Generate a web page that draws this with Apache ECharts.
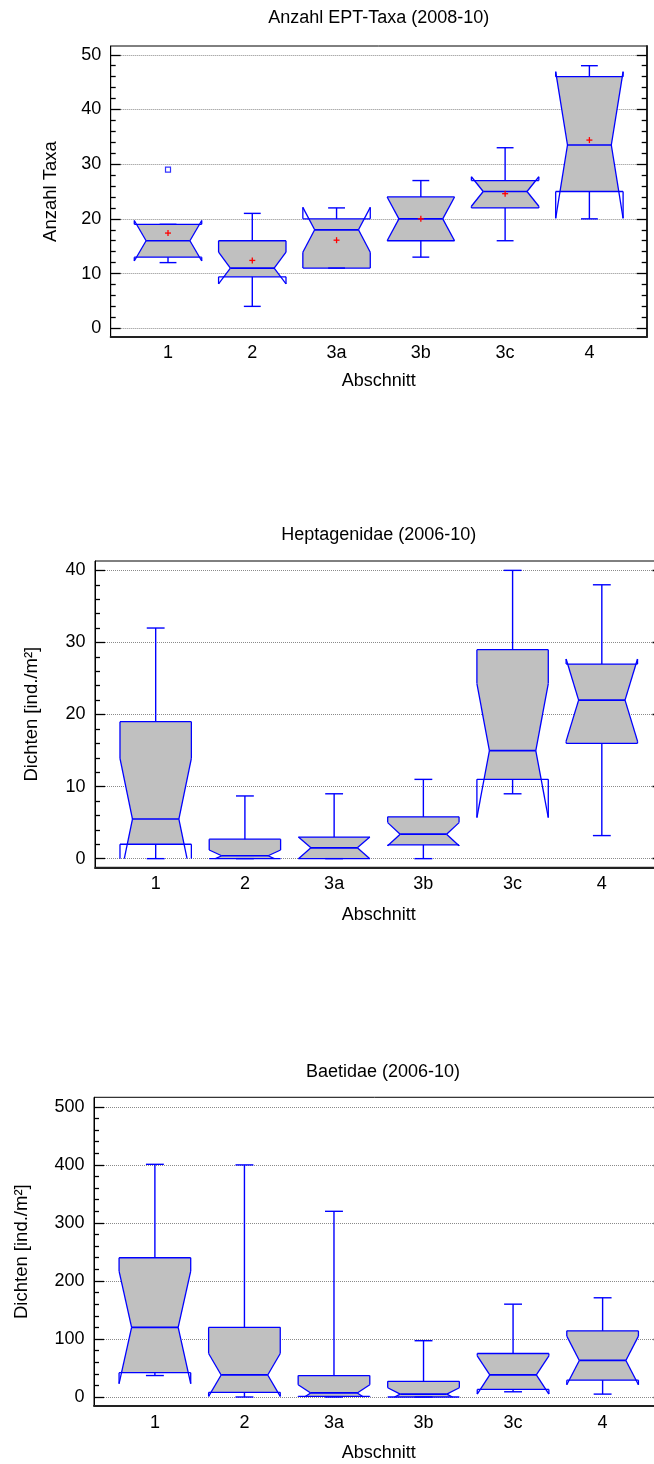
<!DOCTYPE html>
<html><head><meta charset="utf-8">
<script src="https://cdn.jsdelivr.net/npm/echarts@6/dist/echarts.min.js"></script>
<style>html,body{margin:0;padding:0;background:#fff}#c{width:654px;height:1464px}</style>
</head><body><div id="c"></div>
<script>
// ---------- data ----------
const categories = ['1', '2', '3a', '3b', '3c', '4'];
const xPositions = [1, 2, 3, 4, 5, 6];

// Panel 1: Anzahl EPT-Taxa (2008-10)
const ept_min       = [12, 4, 11, 13, 16, 20];
const ept_q1        = [13, 9.4, 11, 16, 22, 25];
const ept_median    = [16, 11, 18, 20, 25, 33.5];
const ept_q3        = [19, 16, 20, 24, 27, 46];
const ept_max       = [19, 21, 22, 27, 33, 48];
const ept_notchLow  = [12.3, 8.1, 13.9, 16, 22.3, 20.1];
const ept_notchHigh = [19.7, 13.9, 22.1, 24, 27.7, 46.9];
const ept_mean      = [17.4, 12.4, 16.1, 20, 24.6, 34.4];
const ept_outliers  = [[1, 29]];
const ept_ticks     = [0, 10, 20, 30, 40, 50];

// Panel 2: Heptagenidae (2006-10)
const hep_min       = [0, 0, 0, 0, 9, 3.2];
const hep_q1        = [2, 0, 0, 1.9, 11, 16];
const hep_median    = [5.5, 0.4, 1.5, 3.4, 15, 22];
const hep_q3        = [19, 2.7, 3, 5.8, 29, 27];
const hep_max       = [32, 8.7, 9, 11, 40, 38];
const hep_notchLow  = [-2.9, -0.4, 0, 1.8, 5.7, 16.3];
const hep_notchHigh = [13.9, 1.2, 3, 5.0, 24.3, 27.7];
const hep_ticks     = [0, 10, 20, 30, 40];

// Panel 3: Baetidae (2006-10)
const bae_min       = [37, 0, 0, 0, 9, 5];
const bae_q1        = [42, 8, 1, 0, 13, 29];
const bae_median    = [120, 38, 7, 5, 38, 63];
const bae_q3        = [240, 120, 37, 27, 75, 114];
const bae_max       = [401, 400, 320, 97, 160, 171];
const bae_notchLow  = [23, 1, -7, -6, 5, 21];
const bae_notchHigh = [217, 75, 21, 16, 71, 105];
const bae_ticks     = [0, 100, 200, 300, 400, 500];

// ---------- helpers ----------
const FONT = '"Liberation Sans", Arial, Helvetica, sans-serif';
const BLUE = '#0000ff';
const BOX_HALF = 0.4, NOTCH_HALF = 0.26, CAP_HALF = 0.1, FLOOR = 0;

function minorTicks(majors) {
  const out = [];
  for (let i = 0; i < majors.length - 1; i++) {
    const a = majors[i], b = majors[i + 1], s = (b - a) / 5;
    for (let k = 1; k < 5; k++) out.push(a + s * k);
  }
  return out;
}

function rows(mn, q1, md, q3, mx, nl, nh) {
  return xPositions.map((x, i) => [x, mn[i], q1[i], md[i], q3[i], mx[i], nl[i], nh[i]]);
}

function renderBox(params, api) {
  const x = api.value(0);
  const vmin = api.value(1), q1 = api.value(2), med = api.value(3), q3 = api.value(4),
        vmax = api.value(5), nL = api.value(6), nH = api.value(7);
  const pt = (dx, y) => api.coord([x + dx, y]);
  const W = BOX_HALF, Wi = NOTCH_HALF;
  const children = [];
  const lineStyle = { stroke: BLUE, lineWidth: 1.3, fill: null };

  // fill: notched shape clipped to [Q1, Q3]
  const lo = Math.max(q1, FLOOR);
  const hw = (y) => {
    if (y >= nH || y <= nL) return W;
    if (y >= med) return Wi + (W - Wi) * (y - med) / (nH - med);
    return Wi + (W - Wi) * (med - y) / (med - nL);
  };
  let ys = [q3, nH, med, nL, lo].filter(y => y <= q3 && y >= lo);
  ys = Array.from(new Set(ys)).sort((a, b) => b - a);
  const poly = ys.map(y => pt(hw(y), y)).concat(ys.slice().reverse().map(y => pt(-hw(y), y)));
  children.push({ type: 'polygon', shape: { points: poly }, style: { fill: '#c0c0c0', stroke: null } });

  // outline of box + notch (clipped at floor)
  const outline = [[-W, q3], [W, q3], [W, nH], [Wi, med], [W, nL], [W, q1], [-W, q1],
                   [-W, nL], [-Wi, med], [-W, nH], [-W, q3]];
  for (let i = 0; i < outline.length - 1; i++) {
    let [ax, ay] = outline[i];
    let [bx, by] = outline[i + 1];
    if (ay < FLOOR && by < FLOOR) continue;
    if (ay < FLOOR) { const t = (FLOOR - ay) / (by - ay); ax = ax + (bx - ax) * t; ay = FLOOR; }
    else if (by < FLOOR) { const t = (FLOOR - ay) / (by - ay); bx = ax + (bx - ax) * t; by = FLOOR; }
    const A = pt(ax, ay), B = pt(bx, by);
    children.push({ type: 'line', shape: { x1: A[0], y1: A[1], x2: B[0], y2: B[1] }, style: lineStyle });
  }
  // median
  const m1 = pt(-Wi, med), m2 = pt(Wi, med);
  children.push({ type: 'line', shape: { x1: m1[0], y1: m1[1], x2: m2[0], y2: m2[1] }, style: { stroke: BLUE, lineWidth: 1.7 } });
  // whiskers
  const seg = (dx1, y1, dx2, y2) => {
    const A = pt(dx1, y1), B = pt(dx2, y2);
    children.push({ type: 'line', shape: { x1: A[0], y1: A[1], x2: B[0], y2: B[1] }, style: { stroke: BLUE, lineWidth: 1.4 } });
  };
  seg(0, q3, 0, vmax);
  seg(0, q1, 0, vmin);
  seg(-CAP_HALF, vmax, CAP_HALF, vmax);
  seg(-CAP_HALF, vmin, CAP_HALF, vmin);
  return { type: 'group', children };
}

function renderMean(params, api) {
  const c = api.coord([api.value(0), api.value(1)]);
  const st = { stroke: '#ff0000', lineWidth: 1.3 };
  return { type: 'group', children: [
    { type: 'line', shape: { x1: c[0] - 3, y1: c[1], x2: c[0] + 3, y2: c[1] }, style: st },
    { type: 'line', shape: { x1: c[0], y1: c[1] - 3, x2: c[0], y2: c[1] + 3 }, style: st }
  ]};
}

function xAxisFor(g, labelMargin, nameGap) {
  return {
    type: 'value', gridIndex: g, min: 0.32, max: 6.68,
    name: 'Abschnitt', nameLocation: 'middle', nameGap: nameGap,
    nameTextStyle: { fontFamily: FONT, fontSize: 18, color: '#000' },
    axisLine: { show: true, onZero: false, lineStyle: { color: '#222', width: 2 } },
    axisTick: { show: false },
    splitLine: { show: false },
    axisLabel: {
      customValues: xPositions, margin: labelMargin,
      fontFamily: FONT, fontSize: 18, color: '#000',
      formatter: v => categories[Math.round(v) - 1]
    }
  };
}

function yAxesFor(g, min, max, majors, name, nameGap) {
  const minors = minorTicks(majors);
  const base = { type: 'value', gridIndex: g, min: min, max: max };
  const tickStyle = { color: '#000', width: 1.3 };
  return [
    Object.assign({}, base, {
      position: 'left', name: name, nameLocation: 'middle', nameGap: nameGap,
      nameTextStyle: { fontFamily: FONT, fontSize: 18.5, color: '#000' },
      axisLine: { show: true, onZero: false, lineStyle: { color: '#000', width: 1 } },
      axisTick: { show: true, inside: true, length: 10, customValues: majors, lineStyle: tickStyle },
      axisLabel: { customValues: majors, margin: 9.5, fontFamily: FONT, fontSize: 18, color: '#000' },
      splitLine: { show: true, lineStyle: { color: '#8a8a8a', width: 1, type: [1, 1] } }
    }),
    Object.assign({}, base, {
      position: 'left',
      axisLine: { show: false },
      axisTick: { show: true, inside: true, length: 5, customValues: minors, lineStyle: tickStyle },
      axisLabel: { show: false }, splitLine: { show: false }
    }),
    Object.assign({}, base, {
      position: 'right',
      axisLine: { show: true, onZero: false, lineStyle: { color: '#222', width: 2 } },
      axisTick: { show: true, inside: true, length: 10, customValues: majors, lineStyle: tickStyle },
      axisLabel: { show: false }, splitLine: { show: false }
    }),
    Object.assign({}, base, {
      position: 'right',
      axisLine: { show: false },
      axisTick: { show: true, inside: true, length: 5, customValues: minors, lineStyle: tickStyle },
      axisLabel: { show: false }, splitLine: { show: false }
    })
  ];
}

const gridStyle = { show: true, borderColor: '#000', borderWidth: 1, backgroundColor: 'transparent',
                    containLabel: false, outerBoundsMode: 'none' };

const option = {
  animation: false,
  backgroundColor: '#ffffff',
  graphic: [
    { type: 'text', x: 378.7, y: 18, style: { text: 'Anzahl EPT-Taxa (2008-10)', font: '18px ' + FONT, fill: '#000', textAlign: 'center', textVerticalAlign: 'middle' } },
    { type: 'text', x: 378.7, y: 535, style: { text: 'Heptagenidae (2006-10)', font: '18px ' + FONT, fill: '#000', textAlign: 'center', textVerticalAlign: 'middle' } },
    { type: 'text', x: 383, y: 1072, style: { text: 'Baetidae (2006-10)', font: '18px ' + FONT, fill: '#000', textAlign: 'center', textVerticalAlign: 'middle' } }
  ],
  grid: [
    Object.assign({ left: 110.7, top: 46, width: 536, height: 291 }, gridStyle),
    Object.assign({ left: 95, top: 561, width: 567.5, height: 306.3 }, gridStyle),
    Object.assign({ left: 94, top: 1097.3, width: 569.5, height: 308.7 }, gridStyle)
  ],
  xAxis: [xAxisFor(0, 7, 35), xAxisFor(1, 8, 38.7), xAxisFor(2, 8.5, 38)],
  yAxis: [].concat(
    yAxesFor(0, -1.6, 51.6, ept_ticks, 'Anzahl Taxa', 50.5),
    yAxesFor(1, -1.2, 41.3, hep_ticks, 'Dichten [ind./m²]', 53.5),
    yAxesFor(2, -15.5, 516.5, bae_ticks, 'Dichten [ind./m²]', 62.9)
  ),
  series: [
    { type: 'custom', xAxisIndex: 0, yAxisIndex: 0, renderItem: renderBox, clip: false,
      encode: { x: 0, y: [1, 5] },
      data: rows(ept_min, ept_q1, ept_median, ept_q3, ept_max, ept_notchLow, ept_notchHigh) },
    { type: 'custom', xAxisIndex: 0, yAxisIndex: 0, renderItem: renderMean, clip: false,
      encode: { x: 0, y: 1 },
      data: xPositions.map((x, i) => [x, ept_mean[i]]) },
    { type: 'scatter', xAxisIndex: 0, yAxisIndex: 0, symbol: 'rect', symbolSize: 5,
      itemStyle: { color: '#ffffff', borderColor: BLUE, borderWidth: 1.2 },
      data: ept_outliers },
    { type: 'custom', xAxisIndex: 1, yAxisIndex: 4, renderItem: renderBox, clip: false,
      encode: { x: 0, y: [1, 5] },
      data: rows(hep_min, hep_q1, hep_median, hep_q3, hep_max, hep_notchLow, hep_notchHigh) },
    { type: 'custom', xAxisIndex: 2, yAxisIndex: 8, renderItem: renderBox, clip: false,
      encode: { x: 0, y: [1, 5] },
      data: rows(bae_min, bae_q1, bae_median, bae_q3, bae_max, bae_notchLow, bae_notchHigh) }
  ]
};

const chart = echarts.init(document.getElementById('c'), null, { renderer: 'canvas' });
chart.setOption(option);
</script>
</body></html>
